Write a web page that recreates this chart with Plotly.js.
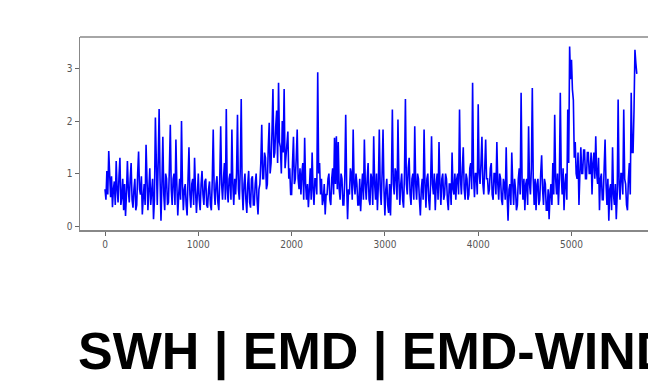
<!DOCTYPE html>
<html>
<head>
<meta charset="utf-8">
<script src="https://cdn.plot.ly/plotly-3.0.1.min.js"></script>
<style>
  html, body { margin: 0; padding: 0; background: #ffffff; }
  #chart { width: 648px; height: 391px; }
</style>
</head>
<body>
<div id="chart"></div>
<script>
// Sample spacing of the hand-read series (one value every 10 time steps)
const sampleStep = 10;

// Significant wave height, rows of 100 time steps (10 values each)
const swh = [
  0.70, 0.50, 1.05, 0.60, 1.43, 0.80, 0.55, 0.95, 0.36, 0.70,   // 0
  0.85, 0.40, 1.24, 0.70, 0.45, 0.95, 1.30, 0.40, 0.55, 0.90,   // 100
  0.30, 0.80, 0.19, 0.60, 1.24, 0.70, 0.45, 0.90, 1.20, 0.50,   // 200
  0.35, 0.70, 0.90, 0.30, 0.40, 1.00, 1.42, 0.70, 0.60, 0.95,   // 300
  0.22, 0.55, 0.80, 0.40, 1.55, 0.90, 0.30, 0.70, 1.10, 0.40,   // 400
  0.60, 0.90, 0.13, 0.50, 2.07, 0.80, 0.40, 1.20, 2.23, 0.90,   // 500
  0.10, 0.80, 1.70, 0.60, 0.30, 1.00, 0.90, 0.40, 0.45, 1.10,   // 600
  1.93, 0.70, 0.40, 0.90, 1.00, 0.40, 1.65, 0.80, 0.20, 0.60,   // 700
  0.90, 0.50, 2.00, 0.80, 0.30, 0.70, 0.80, 0.40, 0.20, 0.90,   // 800
  1.50, 0.60, 0.35, 0.80, 0.90, 0.40, 1.30, 0.70, 0.25, 0.60,   // 900
  1.00, 0.50, 0.30, 0.80, 1.05, 0.60, 0.40, 0.85, 0.90, 0.40,   // 1000
  0.35, 0.70, 0.85, 0.40, 0.30, 0.90, 1.84, 0.70, 0.40, 0.80,   // 1100
  0.95, 0.45, 0.30, 0.90, 1.90, 0.80, 0.50, 0.90, 1.20, 0.50,   // 1200
  2.23, 0.70, 0.45, 0.90, 1.00, 0.50, 1.84, 0.80, 0.40, 0.90,   // 1300
  0.60, 1.00, 2.12, 0.70, 0.50, 1.10, 2.42, 0.70, 0.30, 0.80,   // 1400
  1.00, 0.50, 0.25, 0.80, 1.05, 0.45, 0.35, 0.90, 0.95, 0.40,   // 1500
  0.40, 0.80, 1.00, 0.50, 0.22, 0.70, 0.80, 1.20, 1.93, 0.90,   // 1600
  0.90, 1.40, 1.30, 0.70, 0.80, 1.50, 1.97, 1.00, 1.20, 1.80,   // 1700
  2.61, 1.30, 1.40, 1.90, 2.20, 1.20, 2.73, 1.60, 1.50, 1.00,   // 1800
  2.00, 1.40, 2.61, 1.10, 1.30, 1.60, 1.80, 0.90, 1.10, 0.60,   // 1900
  0.60, 1.20, 1.70, 0.80, 0.90, 1.30, 1.84, 0.90, 0.70, 1.10,   // 2000
  0.60, 1.00, 1.20, 0.50, 1.68, 0.80, 0.50, 0.80, 0.36, 0.70,   // 2100
  1.10, 0.50, 1.40, 0.70, 0.40, 0.90, 0.90, 0.60, 2.93, 1.00,   // 2200
  1.20, 0.60, 0.90, 0.40, 0.50, 0.80, 0.22, 0.60, 0.60, 0.90,   // 2300
  1.00, 0.50, 0.40, 0.90, 1.10, 0.60, 1.68, 0.80, 1.71, 0.70,   // 2400
  1.60, 0.70, 0.50, 1.00, 0.90, 0.40, 0.40, 0.90, 2.12, 0.80,   // 2500
  0.13, 0.70, 0.60, 1.10, 1.00, 0.50, 1.84, 0.80, 0.60, 1.00,   // 2600
  0.80, 0.40, 0.40, 0.90, 0.28, 0.70, 1.00, 0.50, 1.65, 0.80,   // 2700
  0.50, 0.90, 1.20, 0.50, 0.40, 1.00, 0.90, 0.40, 1.71, 0.80,   // 2800
  0.50, 1.00, 0.30, 0.80, 1.84, 0.70, 0.40, 1.00, 1.84, 0.70,   // 2900
  0.20, 0.70, 0.90, 0.40, 0.25, 0.80, 0.20, 0.90, 2.22, 0.80,   // 3000
  0.60, 1.10, 1.00, 0.50, 2.03, 0.90, 0.40, 0.80, 1.00, 0.50,   // 3100
  0.35, 1.00, 2.42, 0.80, 0.60, 1.10, 1.30, 0.60, 0.40, 0.90,   // 3200
  1.00, 0.50, 1.90, 0.80, 0.50, 1.00, 0.90, 0.50, 0.20, 0.70,   // 3300
  0.90, 0.50, 1.84, 0.80, 0.35, 0.90, 1.00, 0.50, 0.30, 0.80,   // 3400
  1.71, 0.80, 0.60, 1.00, 0.30, 0.80, 1.00, 0.50, 1.60, 0.80,   // 3500
  0.40, 0.90, 1.00, 0.50, 0.60, 1.00, 0.90, 0.50, 0.30, 0.80,   // 3600
  0.80, 0.40, 1.40, 0.70, 0.60, 1.00, 0.50, 0.90, 1.00, 0.60,   // 3700
  2.22, 0.90, 0.60, 1.10, 1.50, 0.70, 0.50, 1.00, 0.90, 0.50,   // 3800
  0.60, 1.10, 1.20, 0.70, 2.73, 1.00, 0.55, 1.00, 1.00, 0.60,   // 3900
  2.32, 1.00, 0.80, 1.20, 1.70, 0.80, 0.60, 1.10, 1.65, 0.90,   // 4000
  0.90, 0.60, 0.70, 1.10, 1.20, 0.60, 0.50, 1.00, 1.00, 0.60,   // 4100
  1.60, 0.80, 0.50, 1.00, 0.90, 0.50, 0.40, 0.90, 0.80, 0.50,   // 4200
  1.50, 0.60, 0.10, 0.70, 0.80, 0.40, 1.40, 0.80, 0.40, 0.90,   // 4300
  0.70, 0.30, 0.40, 0.90, 1.10, 0.60, 2.54, 0.90, 0.50, 0.90,   // 4400
  0.30, 0.80, 0.90, 0.40, 1.90, 0.80, 0.60, 1.10, 2.63, 0.90,   // 4500
  0.40, 0.90, 0.30, 0.80, 0.90, 0.40, 0.50, 1.00, 1.35, 0.70,   // 4600
  0.40, 0.90, 0.80, 0.30, 0.30, 0.70, 0.13, 0.60, 0.80, 0.40,   // 4700
  1.20, 0.60, 2.12, 0.90, 0.60, 1.00, 0.40, 0.90, 2.54, 1.00,   // 4800
  0.60, 1.10, 0.30, 0.80, 1.00, 0.50, 2.22, 1.20, 3.42, 2.80,   // 4900
  3.17, 2.60, 2.40, 1.30, 1.60, 1.00, 0.90, 1.40, 0.40, 1.00,   // 5000
  1.50, 1.00, 1.00, 1.45, 1.45, 0.90, 0.90, 1.40, 1.40, 1.00,   // 5100
  1.00, 1.40, 0.60, 1.20, 1.40, 0.90, 1.71, 1.00, 0.80, 1.30,   // 5200
  0.30, 0.90, 1.00, 0.50, 0.50, 1.10, 1.65, 0.80, 0.40, 0.90,   // 5300
  0.10, 0.70, 0.80, 0.30, 1.50, 0.60, 0.40, 0.80, 0.13, 0.60,   // 5400
  2.41, 0.80, 0.50, 1.00, 1.00, 0.60, 2.22, 0.90, 0.80, 0.40,   // 5500
  0.30, 0.90, 1.20, 0.60, 2.54, 1.40, 1.40, 2.20, 3.36, 3.10,   // 5600
  2.90                                                          // 5700
];

const timeIndex = swh.map((_, i) => i * sampleStep);

const xTicks = [0, 1000, 2000, 3000, 4000, 5000];
const yTicks = [0, 1, 2, 3];
const captionText = "SWH | EMD | EMD-WIND";

const trace = {
  x: timeIndex,
  y: swh,
  type: "scatter",
  mode: "lines",
  line: { color: "#0000ff", width: 1.6 },
  hoverinfo: "skip"
};

const axisFont = { family: "DejaVu Sans Condensed, DejaVu Sans, sans-serif", size: 10, color: "#555555" };

const layout = {
  width: 648,
  height: 391,
  margin: { l: 80, r: 0, t: 37, b: 161, pad: 0 },
  paper_bgcolor: "#ffffff",
  plot_bgcolor: "#ffffff",
  showlegend: false,
  xaxis: {
    range: [-268, 5820],
    tickvals: xTicks,
    ticktext: xTicks.map(String),
    ticks: "outside",
    ticklen: 4,
    tickcolor: "#666666",
    tickwidth: 1,
    showline: true,
    linecolor: "#888888",
    linewidth: 1.5,
    showgrid: false,
    zeroline: false,
    tickfont: axisFont
  },
  yaxis: {
    range: [-0.076, 3.603],
    tickvals: yTicks,
    ticktext: yTicks.map(String),
    ticks: "outside",
    ticklen: 4,
    tickcolor: "#666666",
    tickwidth: 1,
    showline: true,
    linecolor: "#888888",
    linewidth: 1.5,
    showgrid: false,
    zeroline: false,
    tickfont: axisFont
  },
  shapes: [
    { type: "line", xref: "paper", yref: "paper", x0: 0, x1: 1, y0: 1, y1: 1,
      line: { color: "#888888", width: 1.5 } }
  ],
  annotations: [
    {
      text: "<b>" + captionText + "</b>",
      xref: "paper", yref: "paper",
      x: -0.007, y: -0.632,
      xanchor: "left", yanchor: "middle",
      showarrow: false,
      font: { family: "Liberation Sans, Arial, sans-serif", size: 52, color: "#000000" }
    }
  ]
};

Plotly.newPlot("chart", [trace], layout, { staticPlot: true, displayModeBar: false });
</script>
</body>
</html>
